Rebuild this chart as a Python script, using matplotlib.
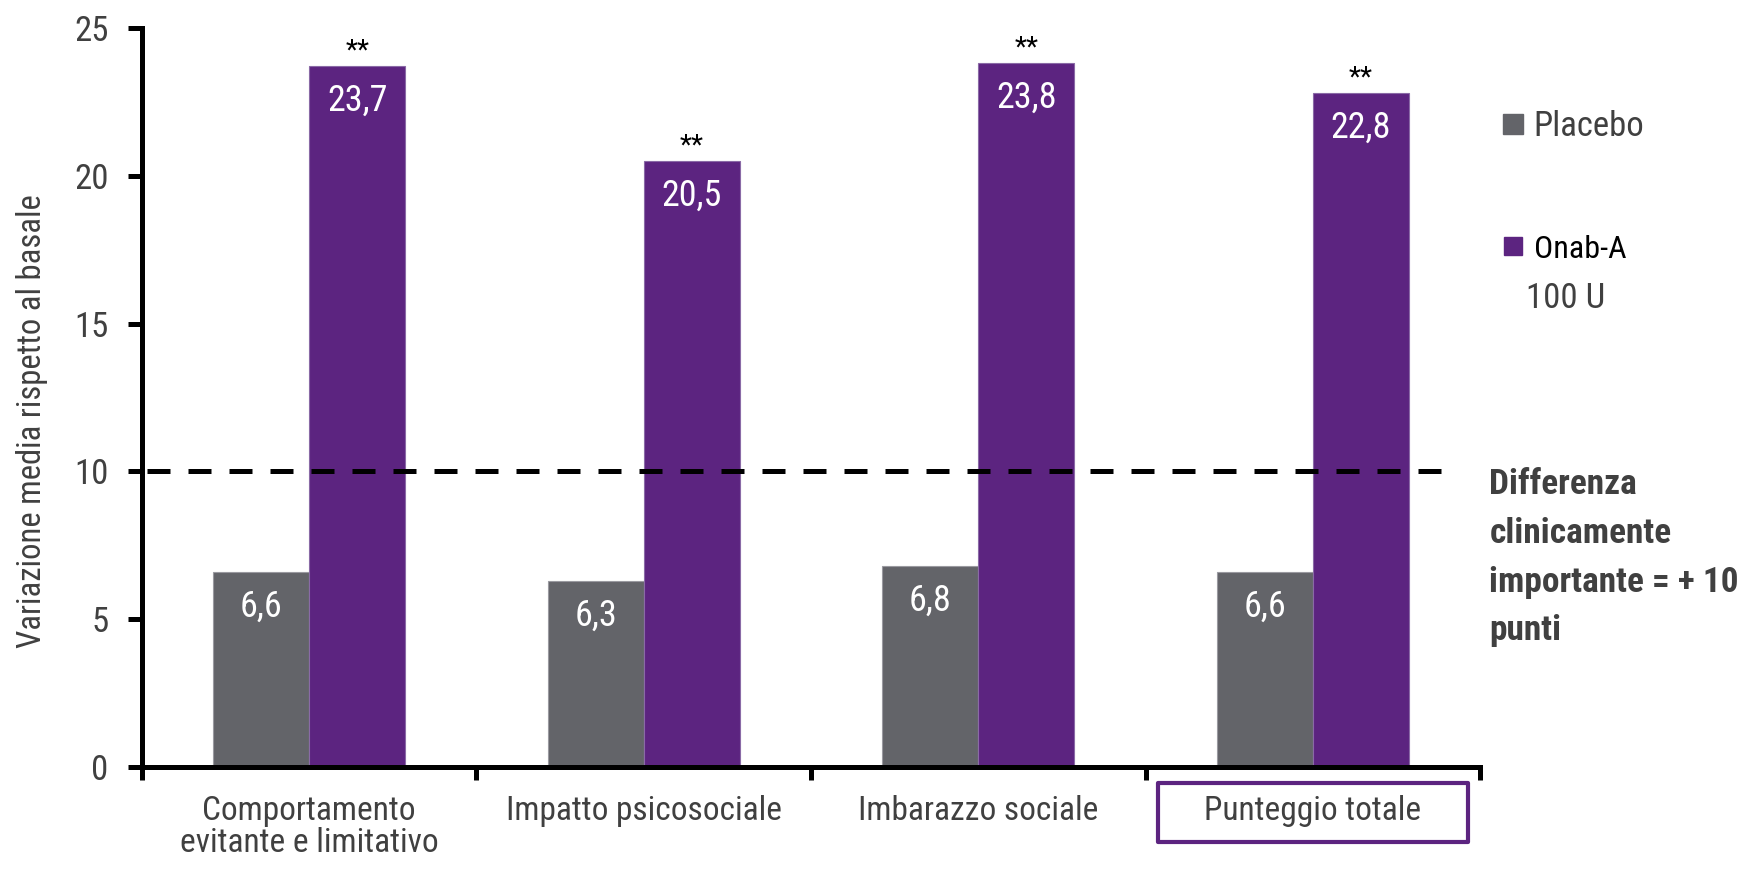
import matplotlib
matplotlib.use("Agg")
import matplotlib.pyplot as plt
import matplotlib.transforms as mtransforms
from matplotlib.patches import Rectangle
from matplotlib.lines import Line2D
import numpy as np

plt.rcParams['font.family'] = ['Roboto Condensed', 'DejaVu Sans']

# data
categories = ["Comportamento\nevitante e limitativo", "Impatto psicosociale",
              "Imbarazzo sociale", "Punteggio totale"]
placebo = [6.6, 6.3, 6.8, 6.6]
onab = [23.7, 20.5, 23.8, 22.8]
signif = ["**", "**", "**", "**"]
mcid = 10

grey = "#636469"
purple = "#5C2480"
text_grey = "#404040"

fig = plt.figure(figsize=(17.46, 8.69), dpi=100)
ax = fig.add_axes([0.0813, 0.1174, 0.7664, 0.8504])

x = np.arange(len(categories))
w = 0.287
b1 = ax.bar(x - w / 2, placebo, w, color=grey, edgecolor="#9a9aa0", linewidth=0.8, zorder=2)
b2 = ax.bar(x + w / 2, onab, w, color=purple, edgecolor="#8a6aa6", linewidth=0.8, zorder=2)

# values inside the bars
for rect, v in zip(list(b1) + list(b2), placebo + onab):
    ax.annotate(f"{v:.1f}".replace(".", ","),
                (rect.get_x() + rect.get_width() / 2, v),
                xytext=(0, -25), textcoords="offset points",
                ha="center", va="center", color="white", fontsize=26, zorder=4)

# significance marks
for rect, v, s in zip(b2, onab, signif):
    ax.annotate(s, (rect.get_x() + rect.get_width() / 2, v),
                xytext=(0, 11), textcoords="offset points",
                ha="center", va="center", color="black", fontsize=20)

# clinically important difference
ax.axhline(mcid, xmin=0.004, xmax=0.976, color="black", lw=3.6,
           linestyle=(0, (4.6, 3.6)), zorder=3)
fig.text(0.853, 0.358, "Differenza\nclinicamente\nimportante = + 10\npunti",
         ha="left", va="center", fontsize=25.5, fontweight="bold",
         color=text_grey, linespacing=1.6)

ax.set_xlim(-0.5, 3.5)
ax.set_ylim(0, 25)
ax.set_yticks(np.arange(0, 26, 5))
ax.set_xticks(x)
ax.set_xticklabels(categories, fontsize=24, color=text_grey, linespacing=1.0)
ax.set_xticks(np.arange(-0.5, 4, 1), minor=True)
ax.tick_params(axis="x", which="major", length=0, pad=20)
ax.tick_params(axis="x", which="minor", length=9.5, width=3.6, direction="out")
ax.tick_params(axis="y", length=10, width=3.6, pad=14, labelsize=25,
               labelcolor=text_grey)

for side in ["top", "right"]:
    ax.spines[side].set_visible(False)
for side in ["left", "bottom"]:
    ax.spines[side].set_linewidth(3.6)

fig.text(0.0185, 0.515, "Variazione media rispetto al basale", rotation=90,
         ha="center", va="center", fontsize=23.5, color=text_grey)

# box around the total score label
trans = mtransforms.blended_transform_factory(ax.transData, ax.transAxes)
ax.add_patch(Rectangle((3 - 0.463, -0.1015), 0.926, 0.0798, transform=trans,
                       fill=False, edgecolor=purple, linewidth=3,
                       joinstyle="round", clip_on=False))

# legend
handles = [Line2D([], [], marker="s", linestyle="none", markersize=14.5,
                  markerfacecolor=grey, markeredgecolor=grey),
           Line2D([], [], marker="s", linestyle="none", markersize=13,
                  markerfacecolor=purple, markeredgecolor=purple)]
leg = fig.legend(handles, ["Placebo", "Onab-A"], loc="upper left",
                 bbox_to_anchor=(0.8605, 0.873), frameon=False, fontsize=25,
                 handlelength=0.6, handletextpad=0.3, labelspacing=2.6,
                 borderaxespad=0, borderpad=0)
leg.get_texts()[0].set_color(text_grey)
leg.get_texts()[1].set_color("black")
leg.get_texts()[1].set_fontsize(23)
fig.text(0.874, 0.657, "100 U", ha="left", va="center", fontsize=25,
         color=text_grey)

fig.savefig("out.png", dpi=100)
